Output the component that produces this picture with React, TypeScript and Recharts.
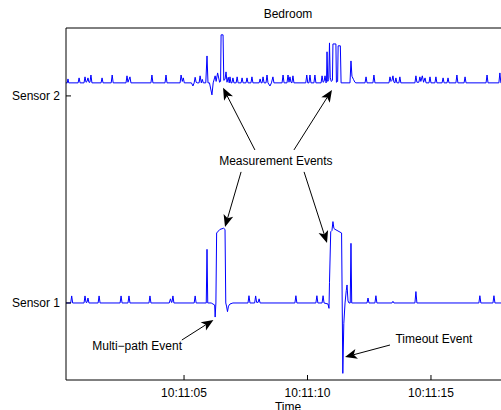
import { LineChart, Line, XAxis, YAxis, ReferenceLine, ReferenceDot } from 'recharts';

const FONT = '"Liberation Sans", Arial, Helvetica, sans-serif';

// seconds after 10:11:00
const timeTicks = [5, 10, 15];
const sensorTicks = [1, 2];

// [time (s), level]
const sensor2Points: [number, number][] = [
  [0.22, 2.063], [0.27, 2.063], [0.3, 2.082], [0.33, 2.063],
  [0.71, 2.063], [0.75, 2.087], [0.79, 2.063],
  [0.95, 2.063], [0.99, 2.092], [1.03, 2.066], [1.07, 2.07], [1.11, 2.087], [1.15, 2.066], [1.19, 2.066], [1.23, 2.101], [1.27, 2.063],
  [1.64, 2.063], [1.68, 2.087], [1.72, 2.063],
  [2.05, 2.063], [2.09, 2.101], [2.13, 2.063],
  [2.65, 2.063], [2.69, 2.097], [2.73, 2.066], [2.81, 2.092], [2.85, 2.063],
  [3.66, 2.063], [3.7, 2.101], [3.74, 2.063],
  [4.23, 2.063], [4.27, 2.101], [4.31, 2.063],
  [4.84, 2.063], [4.88, 2.101], [4.93, 2.07], [4.97, 2.087], [5.01, 2.063],
  [5.3, 2.063], [5.36, 2.048], [5.41, 2.063], [5.45, 2.09], [5.49, 2.066], [5.53, 2.063],
  [5.61, 2.063], [5.65, 2.097], [5.7, 2.063], [5.74, 2.08], [5.78, 2.063],
  [5.88, 2.063], [5.93, 2.193], [5.97, 2.063], [6.03, 2.063], [6.13, 2.005], [6.18, 2.063],
  [6.26, 2.097], [6.3, 2.07], [6.36, 2.111], [6.44, 2.066],
  [6.48, 2.07], [6.5, 2.295], [6.58, 2.295], [6.61, 2.075],
  [6.66, 2.08], [6.7, 2.116], [6.74, 2.066], [6.79, 2.09], [6.83, 2.063], [6.86, 2.092], [6.9, 2.063],
  [6.94, 2.063], [6.98, 2.087], [7.02, 2.063], [7.11, 2.063], [7.15, 2.092], [7.19, 2.063],
  [7.31, 2.063], [7.35, 2.087], [7.39, 2.063], [7.51, 2.063], [7.55, 2.087], [7.59, 2.063],
  [7.71, 2.063], [7.75, 2.092], [7.79, 2.063], [8.04, 2.063], [8.08, 2.082], [8.12, 2.063],
  [8.16, 2.063], [8.2, 2.092], [8.24, 2.063], [8.32, 2.063], [8.36, 2.101], [8.4, 2.063],
  [8.48, 2.048], [8.54, 2.063], [8.6, 2.092], [8.64, 2.063],
  [8.97, 2.063], [9.01, 2.101], [9.05, 2.063],
  [9.17, 2.063], [9.21, 2.101], [9.25, 2.066], [9.29, 2.092], [9.33, 2.066], [9.37, 2.063], [9.41, 2.097], [9.45, 2.063],
  [9.93, 2.063], [9.97, 2.101], [10.01, 2.063], [10.06, 2.063], [10.1, 2.101], [10.14, 2.063],
  [10.26, 2.063], [10.3, 2.101], [10.34, 2.063],
  [10.55, 2.063], [10.59, 2.097], [10.63, 2.066], [10.67, 2.07], [10.71, 2.097], [10.75, 2.063],
  [10.77, 2.07], [10.79, 2.213], [10.82, 2.07], [10.86, 2.08], [10.89, 2.256], [10.92, 2.09], [10.96, 2.07],
  [11.01, 2.075], [11.03, 2.251], [11.15, 2.251], [11.17, 2.066],
  [11.22, 2.07], [11.24, 2.242], [11.33, 2.242], [11.36, 2.063],
  [11.72, 2.063], [11.76, 2.169], [11.8, 2.095], [11.86, 2.08], [11.92, 2.066], [11.96, 2.063],
  [12.33, 2.063], [12.37, 2.092], [12.41, 2.063], [12.65, 2.063], [12.69, 2.101], [12.73, 2.063],
  [13.3, 2.063], [13.34, 2.092], [13.38, 2.07], [13.42, 2.075], [13.46, 2.097], [13.5, 2.066], [13.54, 2.063],
  [13.58, 2.087], [13.62, 2.063], [13.7, 2.063], [13.74, 2.092], [13.78, 2.063],
  [14.35, 2.063], [14.39, 2.097], [14.43, 2.066], [14.51, 2.066], [14.55, 2.092], [14.59, 2.07], [14.65, 2.097],
  [14.7, 2.066], [14.76, 2.087], [14.8, 2.063], [14.92, 2.063], [14.96, 2.092], [15.0, 2.063],
  [15.16, 2.063], [15.2, 2.092], [15.24, 2.063],
  [15.45, 2.063], [15.49, 2.087], [15.53, 2.063], [15.65, 2.063], [15.69, 2.087], [15.73, 2.063],
  [16.01, 2.063], [16.05, 2.101], [16.09, 2.063], [16.34, 2.063], [16.38, 2.092], [16.42, 2.063],
  [17.23, 2.063], [17.27, 2.101], [17.31, 2.063], [17.75, 2.063], [17.79, 2.111], [17.83, 2.063],
  [18.2, 2.063],
];

const sensor1Points: [number, number][] = [
  [0.22, 1.0], [0.41, 1.0], [0.45, 1.034], [0.49, 1.0],
  [0.95, 1.0], [0.99, 1.034], [1.03, 1.003], [1.07, 1.003], [1.11, 1.024], [1.15, 1.0],
  [1.52, 1.0], [1.56, 1.034], [1.6, 1.0],
  [2.41, 1.0], [2.45, 1.034], [2.49, 1.0],
  [2.73, 1.0], [2.77, 1.034], [2.81, 1.0],
  [3.58, 1.0], [3.62, 1.034], [3.66, 1.0],
  [4.4, 1.0], [4.45, 1.02], [4.49, 1.003], [4.51, 1.003], [4.55, 1.034], [4.59, 1.0],
  [5.41, 1.0], [5.45, 1.034], [5.49, 1.0],
  [5.9, 1.0], [5.93, 1.259], [5.96, 1.0], [6.1, 1.0],
  [6.24, 0.99], [6.26, 0.932], [6.29, 1.0], [6.32, 1.338], [6.45, 1.355], [6.6, 1.361], [6.66, 1.355], [6.69, 1.0],
  [6.72, 0.985], [6.76, 0.958], [6.8, 0.985], [6.86, 0.995], [6.98, 1.0],
  [7.59, 1.0], [7.63, 1.035], [7.67, 1.0], [7.86, 1.0], [7.9, 1.034], [7.94, 1.003], [8.0, 1.003], [8.04, 1.02], [8.08, 1.0],
  [9.49, 1.0], [9.53, 1.035], [9.57, 1.0],
  [10.34, 1.0], [10.38, 1.035], [10.42, 1.0], [10.59, 1.0], [10.63, 1.035], [10.67, 1.0],
  [10.83, 0.995], [10.87, 0.974], [10.89, 1.1], [10.94, 1.344], [10.99, 1.35], [11.03, 1.393], [11.07, 1.36], [11.11, 1.356], [11.38, 1.338],
  [11.43, 0.66], [11.47, 0.9], [11.52, 1.0], [11.57, 1.06], [11.6, 1.087], [11.64, 1.01], [11.68, 1.0],
  [11.73, 1.0], [11.76, 1.288], [11.79, 1.0],
  [12.41, 1.0], [12.45, 1.024], [12.49, 1.0], [12.73, 1.0], [12.77, 1.035], [12.81, 1.0],
  [13.42, 1.0], [13.46, 1.008], [13.5, 1.0],
  [14.35, 1.0], [14.39, 1.055], [14.43, 1.0],
  [16.94, 1.0], [16.98, 1.035], [17.02, 1.0], [17.51, 1.0], [17.55, 1.035], [17.59, 1.0],
  [18.2, 1.0],
];

const annotationLabels = [
  { t: 8.72, v: 1.686, text: 'Measurement Events' },
  { t: 3.1, v: 0.792, text: 'Multi\u2212path Event' },
  { t: 15.12, v: 0.826, text: 'Timeout Event' },
];

const annotationArrows: { from: [number, number]; to: [number, number] }[] = [
  { from: [7.87, 1.739], to: [6.58, 2.039] },
  { from: [9.45, 1.739], to: [10.99, 2.029] },
  { from: [7.31, 1.633], to: [6.66, 1.367] },
  { from: [9.86, 1.633], to: [10.79, 1.29] },
  { from: [4.91, 0.821], to: [6.19, 0.918] },
  { from: [13.34, 0.797], to: [11.52, 0.739] },
];

const sensor1 = sensor1Points.map(([t, v]) => ({ t, v }));
const sensor2 = sensor2Points.map(([t, v]) => ({ t, v }));

const fmtTime = (s: number) => `10:11:${String(s).padStart(2, '0')}`;

// line with a notched filled head at the end point
const Arrow = (props: any) => {
  const { x1, y1, x2, y2 } = props;
  const dx = x2 - x1;
  const dy = y2 - y1;
  const len = Math.hypot(dx, dy) || 1;
  const ux = dx / len;
  const uy = dy / len;
  const nx = -uy;
  const ny = ux;
  const headLen = 12;
  const halfW = 5;
  const notch = 9;
  const bx = x2 - ux * headLen;
  const by = y2 - uy * headLen;
  const pts = [
    [x2, y2],
    [bx + nx * halfW, by + ny * halfW],
    [x2 - ux * notch, y2 - uy * notch],
    [bx - nx * halfW, by - ny * halfW],
  ]
    .map((p) => p.join(','))
    .join(' ');
  return (
    <g>
      <line x1={x1} y1={y1} x2={x2 - ux * notch} y2={y2 - uy * notch} stroke="#000" strokeWidth={1} />
      <polygon points={pts} fill="#000" />
    </g>
  );
};

const textStyle = { fill: '#000', fontSize: 12, fontFamily: FONT };

export default function App() {
  return (
    <div style={{ position: 'fixed', left: 0, top: 0, width: 501, height: 410, overflow: 'hidden', background: '#fff' }}>
      <LineChart width={520} height={410} margin={{ top: 27, right: 10, bottom: 0, left: 0 }}>
        <XAxis
          xAxisId="bottom"
          type="number"
          dataKey="t"
          domain={[0.22, 18.2]}
          ticks={timeTicks}
          tickFormatter={fmtTime}
          allowDataOverflow
          height={30}
          tickSize={-5}
          tickMargin={13}
          stroke="#000"
          tick={textStyle}
          label={{ value: 'Time', position: 'insideBottom', offset: -1, ...textStyle }}
        />
        <XAxis
          xAxisId="top"
          orientation="top"
          type="number"
          domain={[0.22, 18.2]}
          ticks={timeTicks}
          allowDataOverflow
          height={1}
          tickSize={-5}
          stroke="#000"
          tick={() => <g />}
          label={{ value: 'Bedroom', position: 'top', offset: 9, ...textStyle }}
        />
        <YAxis
          yAxisId="y"
          type="number"
          domain={[0.628, 2.328]}
          ticks={sensorTicks}
          tickFormatter={(v: number) => `Sensor ${v}`}
          allowDataOverflow
          width={66}
          tickSize={-5}
          tickMargin={11}
          stroke="#000"
          tick={textStyle}
        />
        <Line
          data={sensor2}
          dataKey="v"
          xAxisId="bottom"
          yAxisId="y"
          type="linear"
          stroke="#0000ff"
          strokeWidth={1}
          dot={false}
          isAnimationActive={false}
        />
        <Line
          data={sensor1}
          dataKey="v"
          xAxisId="bottom"
          yAxisId="y"
          type="linear"
          stroke="#0000ff"
          strokeWidth={1}
          dot={false}
          isAnimationActive={false}
        />
        {annotationArrows.map((a, i) => (
          <ReferenceLine
            key={`arrow-${i}`}
            xAxisId="bottom"
            yAxisId="y"
            segment={[{ x: a.from[0], y: a.from[1] }, { x: a.to[0], y: a.to[1] }]}
            ifOverflow="visible"
            shape={Arrow}
          />
        ))}
        {annotationLabels.map((l) => (
          <ReferenceDot
            key={l.text}
            xAxisId="bottom"
            yAxisId="y"
            x={l.t}
            y={l.v}
            r={0}
            ifOverflow="visible"
            shape={(p: any) => (
              <text x={p.cx} y={p.cy} dy="0.35em" textAnchor="middle" {...textStyle}>
                {l.text}
              </text>
            )}
          />
        ))}
      </LineChart>
    </div>
  );
}
